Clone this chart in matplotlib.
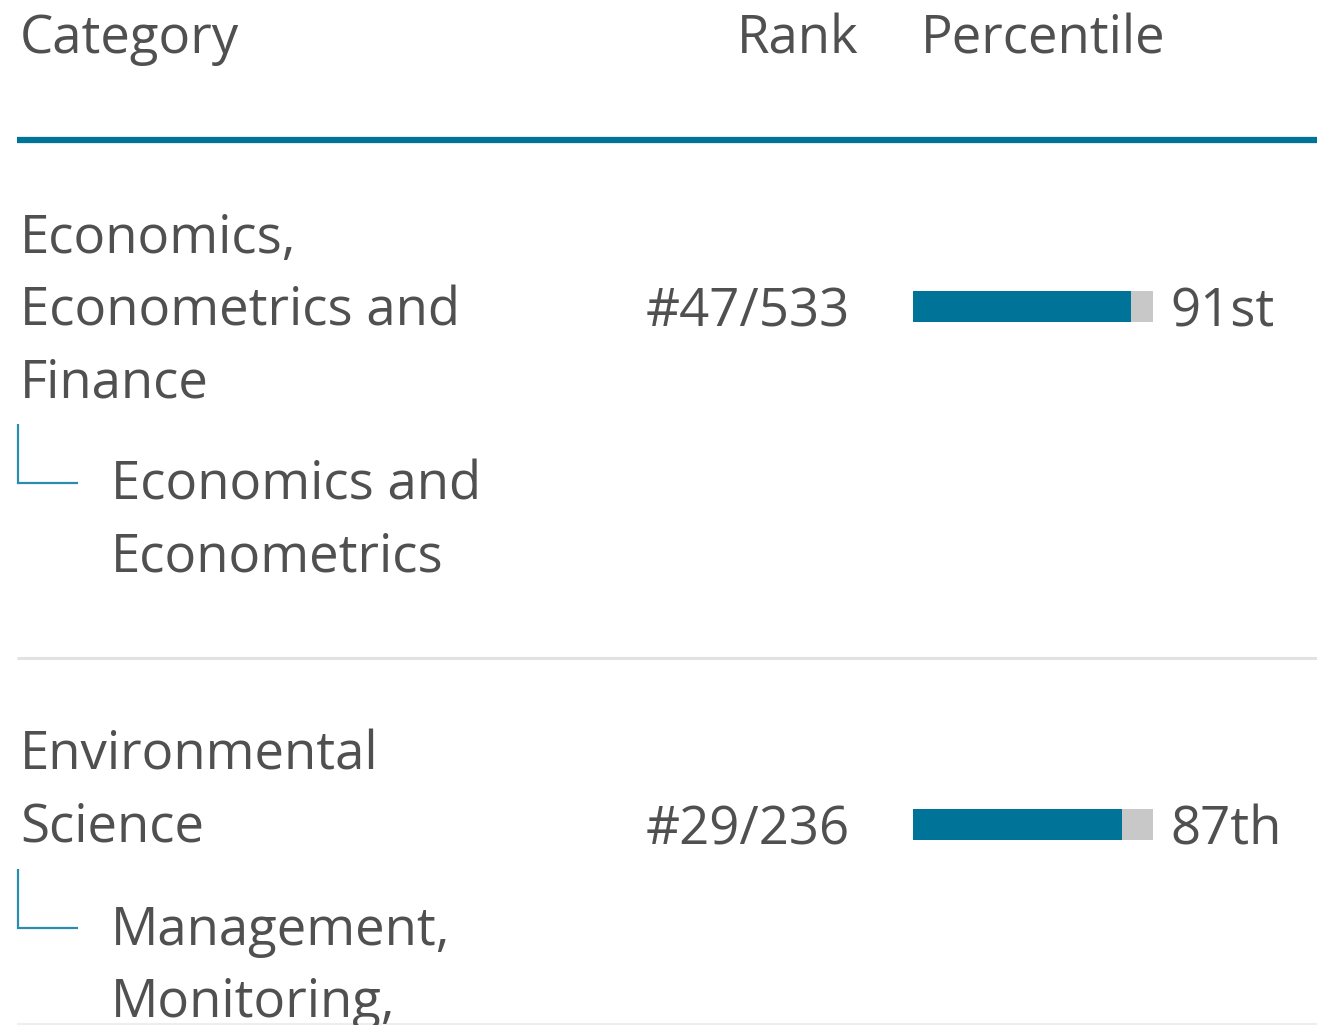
import matplotlib
matplotlib.use("Agg")
import matplotlib.pyplot as plt

# ---- data ----
headers = ["Category", "Rank", "Percentile"]
categories = [["Economics,", "Econometrics and", "Finance"],
              ["Environmental", "Science"]]
subcategories = [["Economics and", "Econometrics"],
                 ["Management,", "Monitoring,"]]
ranks = ["#47/533", "#29/236"]
percentiles = [91, 87]
percentile_labels = ["91st", "87th"]

# ---- style ----
W, H = 1317, 1025
TEXT = "#505050"
BLUE = "#007398"
GREY = "#c8c8c8"
FONT = "Open Sans"
FS = 38

fig = plt.figure(figsize=(W / 100, H / 100), dpi=100)
ax = fig.add_axes([0, 0, 1, 1])
ax.set_xlim(0, W)
ax.set_ylim(H, 0)
ax.axis("off")

# header
ax.text(20, 53, headers[0], fontsize=FS, color=TEXT, family=FONT, va="baseline", ha="left")
ax.text(858, 53, headers[1], fontsize=FS, color=TEXT, family=FONT, va="baseline", ha="right")
ax.text(921, 53, headers[2], fontsize=FS, color=TEXT, family=FONT, va="baseline", ha="left")
ax.plot([17, W], [140, 140], color=BLUE, lw=4.5, solid_capstyle="butt")

# rows
row_tops = [253, 770]
row_centers = [306, 824]
line_h = 72
for i in range(len(categories)):
    y0 = row_tops[i]
    for j, t in enumerate(categories[i]):
        ax.text(20, y0 + j * line_h, t, fontsize=FS, color=TEXT, family=FONT,
                va="baseline", ha="left")
    ys = y0 + len(categories[i]) * line_h + (103 - 72)
    for j, t in enumerate(subcategories[i]):
        ax.text(111, ys + j * line_h, t, fontsize=FS, color=TEXT, family=FONT,
                va="baseline", ha="left")
    # connector
    cy = ys - 17
    ax.plot([18, 18, 78], [cy - 59, cy, cy], color="#2a8db0", lw=1.6,
            solid_capstyle="butt", solid_joinstyle="miter")
    ax.text(850, row_centers[i], ranks[i], fontsize=FS, color=TEXT, family=FONT,
            va="center_baseline", ha="right")
    ax.text(1170, row_centers[i], percentile_labels[i], fontsize=FS, color=TEXT,
            family=FONT, va="center_baseline", ha="left")

# separators
ax.plot([17, W], [658, 658], color="#e2e2e2", lw=2.2, solid_capstyle="butt")
ax.plot([17, W], [1024, 1024], color="#eeeeee", lw=1.5, solid_capstyle="butt")

# percentile bars
bx = fig.add_axes([913 / W, 0, 240 / W, 1])
bx.set_xlim(0, 100)
bx.set_ylim(H, 0)
bx.axis("off")
bx.patch.set_alpha(0)
bx.barh(row_centers, [100] * len(percentiles), height=31, color=GREY, left=0)
bx.barh(row_centers, percentiles, height=31, color=BLUE, left=0)

fig.savefig("out.png", dpi=100, facecolor="white")
